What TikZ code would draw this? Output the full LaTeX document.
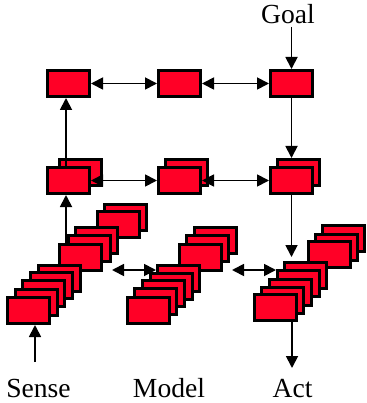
\documentclass[tikz,border=0pt]{standalone}
\usepackage{fontspec}
\setmainfont{Liberation Serif}
\usetikzlibrary{arrows.meta}
\definecolor{boxred}{RGB}{255,0,38}
\tikzset{
  bx/.style={draw=black, fill=boxred, line width=2.6, rectangle, inner sep=0,
    minimum width=42.4, minimum height=26.4, anchor=north west},
  arr/.style={line width=1.8, -{Triangle[length=12pt,width=12pt]}},
  darr/.style={line width=1.8, {Triangle[length=12pt,width=12pt]}-{Triangle[length=12pt,width=12pt]}},
  lbl/.style={font=\fontsize{27.6}{30}\selectfont, inner sep=0.25em, anchor=base}
}
\begin{document}
\begin{tikzpicture}[x=1pt,y=-1pt]
\useasboundingbox (0,0) rectangle (366,403);
% top row
\node[bx] (t1) at (46,69) {};
\node[bx] (t2) at (157,69) {};
\node[bx] (t3) at (269,69) {};
% second row
\node[bx] (r1b) at (58,158) {};
\node[bx] (r1f) at (46,166) {};
\node[bx] (r2b) at (164,158) {};
\node[bx] (r2f) at (157,166) {};
\node[bx] (r3b) at (276,158) {};
\node[bx] (r3f) at (269,166) {};
% sense stack
\foreach \n/\x/\y in {s10/103/203, s9/96/210, s8/74/226, s7/67/234, s6/58/243,
  s5/37/264, s4/29/271, s3/21/279, s2/14/288, s1/6/296}
  {\node[bx] (\n) at (\x,\y) {};}
% model stack
\foreach \n/\x/\y in {m8/193/226, m7/185/234, m6/178/243,
  m5/156/264, m4/149/272, m3/141/279, m2/133/287, m1/126/296}
  {\node[bx] (\n) at (\x,\y) {};}
% act stack
\foreach \n/\x/\y in {a8/321/224, a7/314/233, a6/307/240,
  a5/283/261, a4/276/269, a3/268/278, a2/260/286, a1/253/293}
  {\node[bx] (\n) at (\x,\y) {};}
% labels
\node[lbl] (goal) at (288,24) {Goal};
\node[lbl] (sense) at (38.5,397) {Sense};
\node[lbl] (model) at (169,397) {Model};
\node[lbl] (act) at (292.5,397) {Act};
% connectors
\draw[arr] (goal.south -| t3.north) -- (t3.north);
\draw[darr] (t1) -- (t2);
\draw[darr] (t2) -- (t3);
\draw[darr] (r1f.east) -- (r2f.west);
\draw[darr] (r2f.east) -- (r3f.west);
\coordinate (sx) at ([xshift=-2.5]r1f.south);
\draw[arr] (r1f.north -| sx) -- (t1.south -| sx);
\draw[arr] (s6.north -| sx) -- (sx);
\draw[arr] (t3.south) -- (t3.south |- r3b.north);
\draw[arr, shorten >=4] (r3f.south) -- (r3f.south |- a5.north);
\coordinate (smL) at (112,270);
\draw[darr] (smL) -- (m5.west |- smL);
\coordinate (maL) at (232,270);
\draw[darr] (maL) -- (a4.west |- maL);
\coordinate (sin) at (35,362);
\draw[arr] (sin) -- (sin |- s1.south);
\coordinate (aout) at (292,368);
\draw[arr] (aout |- a1.south) -- (aout);
\end{tikzpicture}
\end{document}
